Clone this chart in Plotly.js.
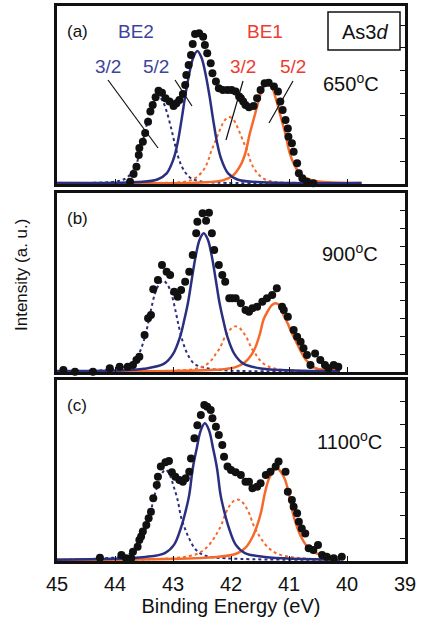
<!DOCTYPE html>
<html>
<head>
<meta charset="utf-8">
<script src="https://cdn.plot.ly/plotly-3.0.1.min.js"></script>
<style>html,body{margin:0;padding:0;background:#fff;}#chart{width:422px;height:623px;}</style>
</head>
<body>
<div id="chart"></div>
<script>
// ---------- Panel (a) 650 oC ----------
const dotsA_E = [43.74,43.68,43.63,43.59,43.58,43.52,43.48,43.43,43.39,43.35,43.30,43.25,43.19,43.13,43.06,42.99,42.94,42.89,42.83,42.79,42.77,42.73,42.69,42.66,42.62,42.55,42.48,42.45,42.41,42.35,42.32,42.26,42.21,42.14,42.06,41.99,41.92,41.86,41.83,41.79,41.75,41.69,41.61,41.55,41.49,41.42,41.35,41.26,41.19,41.15,41.11,41.06,41.02,41.01,40.95,40.92,40.86,40.83,40.77,40.69,40.58,40.46];
const dotsA_I = [0.10,0.44,0.76,1.28,1.59,1.86,2.25,2.74,3.19,3.48,3.82,4.11,4.02,3.78,3.63,3.44,3.56,3.70,3.96,4.36,4.80,5.24,5.68,6.17,6.61,6.64,6.49,6.12,5.76,5.32,4.88,4.51,4.22,4.14,4.14,4.14,4.07,3.85,3.78,3.63,3.48,3.38,3.44,3.78,4.14,4.44,4.46,4.29,4.07,3.63,3.26,2.82,2.45,2.08,1.79,1.42,0.91,0.47,0.25,0.10,0.03,-0.04];
const be2_52_A_E = [45,43.61,43.27,43.11,42.99,42.92,42.85,42.79,42.72,42.65,42.58,42.51,42.44,42.37,42.31,42.24,42.17,42.05,41.89,41.55,39.75];
const be2_52_A_I = [0.04,0.09,0.2,0.47,1.11,1.82,2.87,3.87,4.86,5.57,5.86,5.57,4.86,3.87,2.87,1.82,1.11,0.47,0.2,0.09,0.04];
const be2_32_A_E = [45,44.28,43.94,43.78,43.66,43.59,43.52,43.46,43.39,43.32,43.25,43.18,43.11,43.04,42.98,42.91,42.84,42.72,42.56,42.22,39.75];
const be2_32_A_I = [0.03,0.06,0.13,0.31,0.73,1.19,1.89,2.54,3.2,3.66,3.85,3.66,3.2,2.54,1.89,1.19,0.73,0.31,0.13,0.06,0.03];
const be1_52_A_E = [45,42.52,42.14,41.97,41.83,41.75,41.68,41.60,41.52,41.45,41.37,41.29,41.22,41.14,41.06,40.99,40.91,40.78,40.60,40.22,39.75];
const be1_52_A_I = [0.04,0.07,0.16,0.36,0.85,1.38,2.18,2.94,3.69,4.23,4.45,4.23,3.69,2.94,2.18,1.38,0.85,0.36,0.16,0.07,0.04];
const be1_32_A_E = [45,43.18,42.80,42.63,42.49,42.41,42.34,42.26,42.18,42.11,42.03,41.95,41.88,41.80,41.72,41.65,41.57,41.44,41.26,40.88,39.75];
const be1_32_A_I = [0.03,0.05,0.1,0.24,0.56,0.92,1.45,1.95,2.45,2.8,2.95,2.8,2.45,1.95,1.45,0.92,0.56,0.24,0.1,0.05,0.03];

// ---------- Panel (b) 900 oC ----------
const dotsB_E = [44.89,44.69,44.38,44.09,43.92,43.78,43.69,43.63,43.58,43.49,43.43,43.38,43.34,43.26,43.19,43.11,43.05,42.98,42.92,42.86,42.79,42.72,42.66,42.60,42.58,42.49,42.43,42.38,42.33,42.29,42.21,42.15,42.10,42.03,41.98,41.92,41.83,41.75,41.69,41.63,41.55,41.46,41.38,41.29,41.21,41.12,41.09,41.02,40.92,40.86,40.80,40.75,40.69,40.63,40.55,40.46,40.38,40.32,40.23,40.15];
const dotsB_I = [0.11,0.02,0.02,0.21,0.30,0.30,0.39,0.67,0.85,2.07,3.00,3.18,4.62,5.14,5.98,5.60,5.42,4.49,4.21,4.58,5.04,5.60,6.54,7.75,8.40,8.87,8.45,8.90,7.75,6.82,5.98,5.42,5.04,4.12,4.12,4.12,3.84,3.46,3.37,3.56,3.65,3.93,4.12,4.30,4.68,3.65,3.46,3.09,2.35,1.97,1.69,1.32,0.95,0.39,1.04,0.67,0.39,0.21,0.39,0.30];
const be2_52_B_E = [45,44.01,43.50,43.16,43.00,42.88,42.81,42.74,42.68,42.61,42.54,42.47,42.40,42.33,42.26,42.20,42.13,42.06,41.94,41.78,41.44,40.93,40.12];
const be2_52_B_I = [0.05,0.08,0.18,0.45,1.0,1.95,2.85,3.9,5.1,6.45,7.4,7.75,7.4,6.45,5.1,3.9,2.85,1.95,1.0,0.45,0.18,0.08,0.05];
const be2_32_B_E = [45,44.20,43.86,43.70,43.58,43.51,43.44,43.38,43.31,43.24,43.17,43.10,43.03,42.96,42.90,42.83,42.76,42.64,42.48,42.14,40.12];
const be2_32_B_I = [0.04,0.1,0.26,0.48,1.07,1.68,2.55,3.47,4.39,4.9,5.1,4.9,4.39,3.47,2.55,1.68,1.07,0.48,0.26,0.1,0.04];
const be1_52_B_E = [45,43.0,42.26,41.92,41.76,41.64,41.57,41.50,41.44,41.37,41.30,41.23,41.16,41.09,41.02,40.96,40.89,40.82,40.70,40.54,40.20,40.12];
const be1_52_B_I = [0.04,0.06,0.12,0.27,0.54,1.0,1.46,2.15,2.92,3.38,3.72,3.84,3.72,3.15,2.69,2.23,1.77,1.31,0.65,0.21,0.1,0.08];
const be1_32_B_E = [45,42.95,42.61,42.45,42.33,42.26,42.19,42.13,42.06,41.99,41.92,41.85,41.78,41.71,41.65,41.58,41.51,41.39,41.23,40.89,40.12];
const be1_32_B_I = [0.03,0.08,0.18,0.36,0.69,1.02,1.35,1.79,2.17,2.45,2.55,2.45,2.17,1.79,1.35,1.02,0.69,0.36,0.18,0.08,0.04];

// ---------- Panel (c) 1100 oC ----------
const dotsC_E = [44.26,43.89,43.81,43.72,43.69,43.61,43.58,43.55,43.52,43.46,43.42,43.38,43.34,43.28,43.26,43.21,43.13,43.07,43.02,42.96,42.89,42.83,42.78,42.72,42.69,42.63,42.58,42.52,42.46,42.41,42.35,42.32,42.26,42.21,42.15,42.12,42.06,42.00,41.92,41.83,41.75,41.69,41.63,41.55,41.49,41.40,41.32,41.23,41.18,41.06,41.02,40.95,40.92,40.86,40.83,40.78,40.72,40.66,40.58,40.50,40.43,40.35,40.23,40.09];
const dotsC_I = [0.14,0.26,0.12,0.12,0.41,0.63,0.92,1.07,1.29,1.58,1.87,2.16,2.75,3.33,3.70,4.14,4.33,4.39,3.89,3.70,3.55,3.48,3.63,3.92,4.50,5.38,5.96,6.40,6.84,6.77,6.62,6.26,5.89,5.53,5.09,4.57,4.14,3.99,3.89,3.77,3.48,3.48,3.19,3.26,3.41,3.77,3.92,4.14,4.36,3.92,3.04,2.68,2.38,2.09,1.72,1.43,1.21,0.56,0.48,0.70,0.26,0.19,0.12,0.19];
const be2_52_C_E = [45,43.48,43.14,42.98,42.86,42.79,42.72,42.66,42.59,42.52,42.45,42.38,42.31,42.24,42.18,42.11,42.04,41.92,41.76,41.42,40.12];
const be2_52_C_I = [0.06,0.18,0.35,0.72,1.48,2.11,2.9,4.05,4.95,5.74,6.04,5.74,4.95,4.05,2.9,2.11,1.48,0.72,0.35,0.18,0.06];
const be2_32_C_E = [45,44.16,43.82,43.66,43.54,43.47,43.40,43.34,43.27,43.20,43.13,43.06,42.99,42.92,42.86,42.79,42.72,42.60,42.44,42.10,40.12];
const be2_32_C_I = [0.05,0.12,0.23,0.48,0.98,1.4,1.92,2.68,3.28,3.8,4.0,3.8,3.28,2.68,1.92,1.4,0.98,0.48,0.23,0.12,0.05];
const be1_52_C_E = [45,42.24,41.90,41.74,41.62,41.55,41.48,41.42,41.35,41.28,41.21,41.14,41.07,41.00,40.94,40.87,40.80,40.68,40.52,40.18,40.10];
const be1_52_C_I = [0.05,0.18,0.33,0.61,1.10,1.55,2.16,2.93,3.58,3.91,4.07,3.91,3.58,2.93,2.16,1.55,1.10,0.61,0.33,0.18,0.15];
const be1_32_C_E = [45,42.92,42.58,42.42,42.30,42.23,42.16,42.10,42.03,41.96,41.89,41.82,41.75,41.68,41.62,41.55,41.48,41.36,41.20,40.86,40.12];
const be1_32_C_I = [0.05,0.14,0.32,0.59,0.97,1.27,1.62,2.05,2.4,2.62,2.7,2.62,2.4,2.05,1.62,1.27,0.97,0.59,0.32,0.14,0.06];

const panelLabels = ['(a)','(b)','(c)'];
const tempLabels = ['650<sup>o</sup>C','900<sup>o</sup>C','1100<sup>o</sup>C'];
const xTickVals = [45,44,43,42,41,40,39];
const xTickText = ['45','44','43','42','41','40','39'];

// ---------- drawing ----------
const W = 422, H = 623;
const PX = x => x / W;
const PY = y => 1 - y / H;
const NAVY = '#2b2f7f', ORANGE = '#f5692b', BLUE_TXT = '#3d449e', RED_TXT = '#ee3b30';
const FONT = 'Arial, "Liberation Sans", Helvetica, sans-serif';

const panels = [
  {dE: dotsA_E, dI: dotsA_I, c: [[be2_32_A_E,be2_32_A_I,NAVY,true],[be1_32_A_E,be1_32_A_I,ORANGE,true],[be1_52_A_E,be1_52_A_I,ORANGE,false],[be2_52_A_E,be2_52_A_I,NAVY,false]]},
  {dE: dotsB_E, dI: dotsB_I, c: [[be2_32_B_E,be2_32_B_I,NAVY,true],[be1_32_B_E,be1_32_B_I,ORANGE,true],[be1_52_B_E,be1_52_B_I,ORANGE,false],[be2_52_B_E,be2_52_B_I,NAVY,false]]},
  {dE: dotsC_E, dI: dotsC_I, c: [[be2_32_C_E,be2_32_C_I,NAVY,true],[be1_32_C_E,be1_32_C_I,ORANGE,true],[be1_52_C_E,be1_52_C_I,ORANGE,false],[be2_52_C_E,be2_52_C_I,NAVY,false]]}
];
const boxes = [ {top:6, bot:184, ymax:7.84}, {top:193, bot:372, ymax:10.0}, {top:380, bot:561, ymax:7.94} ];

const traces = [];
panels.forEach((p, i) => {
  const xa = i === 0 ? 'x' : 'x' + (i + 1), ya = i === 0 ? 'y' : 'y' + (i + 1);
  p.c.forEach(([e, v, col, dotted]) => {
    traces.push({x: e, y: v, xaxis: xa, yaxis: ya, type: 'scatter', mode: 'lines',
      line: {color: col, width: dotted ? 2 : 2.5, dash: dotted ? '3px,3px' : 'solid', shape: 'spline', smoothing: 1},
      hoverinfo: 'skip', showlegend: false});
  });
  traces.push({x: p.dE, y: p.dI, xaxis: xa, yaxis: ya, type: 'scatter', mode: 'markers',
    marker: {color: '#111', size: 8}, cliponaxis: false, showlegend: false});
});

const layout = {
  width: W, height: H, margin: {l: 0, r: 0, t: 0, b: 0},
  paper_bgcolor: '#fff', plot_bgcolor: '#fff', showlegend: false,
  font: {family: FONT, size: 17, color: '#111'},
  annotations: [], shapes: []
};
boxes.forEach((b, i) => {
  const s = i === 0 ? '' : String(i + 1);
  layout['xaxis' + s] = {
    domain: [PX(57), PX(405)], range: [45, 39], anchor: 'y' + s,
    tickmode: 'array', tickvals: xTickVals, ticktext: xTickText,
    ticks: 'inside', ticklen: 5, tickwidth: 1, tickcolor: '#111',
    showticklabels: i === 2, ticklabelstandoff: 3,
    tickfont: {family: FONT, size: 20, color: '#111'},
    showline: true, mirror: true, linewidth: 3, linecolor: '#111',
    showgrid: false, zeroline: false, automargin: false
  };
  if (i === 2) layout['xaxis3'].title = {text: 'Binding Energy (eV)', font: {family: FONT, size: 20, color: '#111'}, standoff: 2};
  layout['yaxis' + s] = {
    domain: [PY(b.bot), PY(b.top)], range: [0, b.ymax], anchor: 'x' + s, side: 'right',
    tickmode: 'linear', tick0: 0, dtick: 1,
    ticks: 'inside', ticklen: 5, tickwidth: 1, tickcolor: '#111', showticklabels: false,
    showline: true, mirror: true, linewidth: 3, linecolor: '#111',
    showgrid: false, zeroline: false, automargin: false
  };
});

function ann(text, x, y, size, color, extra) {
  layout.annotations.push(Object.assign({text: text, xref: 'paper', yref: 'paper', x: PX(x), y: PY(y),
    xanchor: 'center', yanchor: 'middle', showarrow: false,
    font: {family: FONT, size: size, color: color}}, extra || {}));
}
ann(panelLabels[0], 77, 32, 17, '#111');
ann(panelLabels[1], 77, 218, 17, '#111');
ann(panelLabels[2], 77, 405, 17, '#111');
ann(tempLabels[0], 351, 82, 20, '#111');
ann(tempLabels[1], 350, 252, 20, '#111');
ann(tempLabels[2], 349, 440, 20, '#111');
ann('BE2', 136, 32, 19, BLUE_TXT);
ann('BE1', 265, 32, 19, RED_TXT);
ann('3/2', 108, 67, 19, BLUE_TXT);
ann('5/2', 156, 67, 19, BLUE_TXT);
ann('3/2', 243, 67, 19, RED_TXT);
ann('5/2', 293, 67, 19, RED_TXT);
ann('As3<i>d</i>', 365, 32, 20, '#111');
ann('Intensity (a. u.)', 22, 275, 17, '#111', {textangle: -90});

function seg(x0, y0, x1, y1) {
  layout.shapes.push({type: 'line', xref: 'paper', yref: 'paper', x0: PX(x0), y0: PY(y0), x1: PX(x1), y1: PY(y1),
    line: {color: '#111', width: 1.2}});
}
seg(108, 80, 158, 148);
seg(175, 80, 192, 106);
seg(243, 81, 226, 140);
seg(293, 81, 269, 123);
layout.shapes.push({type: 'rect', xref: 'paper', yref: 'paper', x0: PX(328), y0: PY(50), x1: PX(400), y1: PY(12),
  line: {color: '#111', width: 1.5}, fillcolor: 'rgba(0,0,0,0)'});

Plotly.newPlot('chart', traces, layout, {staticPlot: true, displayModeBar: false});
</script>
</body>
</html>
